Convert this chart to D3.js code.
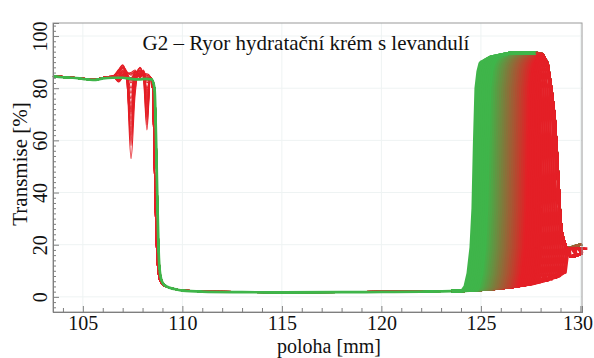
<!DOCTYPE html>
<html><head><meta charset="utf-8">
<script src="https://cdn.jsdelivr.net/npm/d3@7/dist/d3.min.js"></script>
<style>
body{margin:0;background:#fff}
text{font-family:"Liberation Serif","Times New Roman",serif;fill:#111}
</style>
</head><body>
<svg id="c" width="594" height="358"></svg>
<script>
// ---------- data ----------
const titleText = "G2 – Ryor hydratační krém s levandulí";
const xLabel = "poloha [mm]";
const yLabel = "Transmise [%]";
const xTicks = [105, 110, 115, 120, 125, 130];
const yTicks = [0, 20, 40, 60, 80, 100];

// last (green) profile, left / middle part
const lastX = [103.5,104,104.5,105,105.5,105.8,106,106.5,107,107.4,107.8,108.2,108.45,108.6,108.68,108.75,108.82,108.9,109,109.2,109.6,110,111,113,115,118,120,122,123.5];
const lastT = [84.6,84.2,84,83.6,83.2,83.4,83.8,84,84,83.6,83.4,83.6,83.4,80,60,35,15,8,5.5,4,3,2.4,2.0,1.8,1.7,1.8,1.9,2.0,2.2];

// early (red) profiles, left part; null = per-profile value below
const redX = [103.5,104,104.5,105,105.5,105.8,106,106.5,106.8,107.0,107.2,107.42,107.62,107.87,108.05,108.22,108.4,108.5,108.58,108.66,108.74,108.82,108.92,109.1,109.5,110,111,113,115,118,120,122,123.5];
const redT = [84.9,84.5,84.2,83.8,83.5,83.7,84.1,84.6,null,null,null,null,null,null,null,null,84.3,80,55,28,13,7.5,5.5,4.2,3.3,2.6,2.2,2.0,1.9,2.0,2.1,2.2,2.2];
const peak1 = [89,88.5,88.8,88,87.5,88.2,87,86.5,87.8,86,85.5,86.8,85.2,85,86.2,84.8,84.5,85.5,84.3,84.2];
const mid1  = [84.5,85.5,83.5,86.5,85,83,86,84.5,85.5,84,86.5,84.5,85.5,85,86.5,85.5,84.5,86,85.5,86];
const dip1  = [53,58,62,60,66,64,70,68,72,74,71,76,78,80,82,83,84,85,86,85.5];
const mid2  = [77,81,83,79,84,82,85,83,86,85,84,86,86.5,85,86,86.5,85.5,86.5,87,86.5];
const peak2 = [88,87,87.5,86.5,87.8,86,86.8,85.5,86.5,85.2,86,85,85.5,84.8,85,84.5,84.5,84.2,84,84];
const mid3  = [83,85,84,86,85,86.5,84.5,86,86.5,85.5,86.5,86,86.5,85.5,87,85.5,85.5,86.5,85.5,85.5];
const dip2  = [64,68,66,70,72,69,74,73,76,75,78,77,79,80,82,83,84,84.5,85,85.5];

// front (clarification edge) position of each profile, first -> last
const fronts = [128.95,128.85,128.75,128.65,128.55,128.45,128.35,128.25,128.15,128.05,
  127.95,127.85,127.75,127.65,127.55,127.45,127.35,127.25,127.15,127.05,
  126.95,126.85,126.75,126.65,126.55,126.45,126.35,126.25,126.15,126.05,
  125.95,125.85,125.75,125.65,125.55,125.45,125.35,125.25,125.15,125.05,
  124.95,124.85,124.75,124.65,124.55,124.45,124.35,124.25,124.15,124.05];

// low level in front of the edge
const lowX = [123.5,124.5,125.5,126.5,127.5,128.3,128.8,129.05,129.3];
const lowT = [2.2,2.5,3.0,3.8,5.0,6.5,8.2,10,10];
// shape of the rising edge (distance from front, transmission)
const riseDx = [0,0.15,0.3,0.45,0.55,0.62,0.7,0.8,0.9,1.05,1.4];
const riseT  = [0,4,9,19,34,58,80,86.5,89.5,91.5,93.5];
// upper envelope (plateau + cell bottom)
const envX = [123.5,124.6,124.8,125.0,125.5,126.5,127.2,127.8,128.1,128.35,128.55,128.7,128.8,128.9,128.98,129.05,129.15,129.3];
const envT = [86,86,88,90,92,93.5,94,93.7,93,89.5,79,69,57,43,31,25,22,18.5];
// tails behind the cell bottom: early and late profiles
const tailEarlyX = [129.3,129.5,129.8,130.08];
const tailEarlyT = [17,15.5,15.8,16.8];
const tailLateX  = [129.3,129.5,129.8,130.08];
const tailLateT  = [19.2,18.8,19.6,20.2];
const tailSplit = 126.0;
const tailStart = 128.0;

const colorStops = [126.7, 124.75];
const colorRange = ["#e41f26", "#3fb54a"];

// ---------- drawing ----------
const svg = d3.select("#c");
const x = d3.scaleLinear().domain([103.5, 130.08]).range([53, 582]);
const y = d3.scaleLinear().domain([-5.8, 105]).range([312, 23]);
const color = d3.scaleLinear().domain(colorStops).range(colorRange).clamp(true).interpolate(d3.interpolateRgb);
const pw = (xs, ts) => d3.scaleLinear().domain(xs).range(ts).clamp(true);
const line = d3.line().x(d => x(d[0])).y(d => y(d[1]));
const lineS = d3.line().x(d => x(d[0])).y(d => y(d[1])).curve(d3.curveMonotoneX);

// grid
const grid = svg.append("g").attr("stroke", "#eef3f3").attr("stroke-width", 1);
xTicks.forEach(v => grid.append("line").attr("x1", x(v)).attr("x2", x(v)).attr("y1", 23).attr("y2", 312));
yTicks.forEach(v => grid.append("line").attr("x1", 53).attr("x2", 582).attr("y1", y(v)).attr("y2", y(v)));

const lowF = pw(lowX, lowT);
const riseF = pw(riseDx, riseT);
const envF = pw(envX, envT);

const n = fronts.length;
const profiles = fronts.map((f, i) => {
  let left;
  if (i < dip1.length) {
    const t = redT.slice();
    t[8] = peak1[i] - 1.8; t[9] = peak1[i]; t[10] = mid1[i]; t[11] = dip1[i];
    t[12] = mid2[i]; t[13] = peak2[i]; t[14] = mid3[i]; t[15] = dip2[i];
    left = redX.map((v, k) => [v, t[k]]);
  } else {
    left = lastX.map((v, k) => [v, lastT[k]]);
  }
  const pts = [];
  lowX.filter(v => v < f).forEach(v => pts.push([v, lowF(v)]));
  const b = lowF(f);
  const xs = Array.from(new Set(riseDx.map(d => +(f + d).toFixed(3)).concat(envX.filter(v => v > f))))
    .sort((a, c) => a - c);
  xs.forEach(v => pts.push([v, Math.min(Math.max(b, riseF(v - f)), envF(v))]));
  const tx = f > tailSplit ? tailEarlyX : tailLateX, tt = f > tailSplit ? tailEarlyT : tailLateT;
  tx.forEach((v, k) => { if (v > pts[pts.length - 1][0]) pts.push([v, tt[k]]); });
  const right = pts.filter(p => p[0] <= tailStart + 0.001);
  const tail = pts.filter(p => p[0] >= tailStart - 0.3);
  return {i, f, left, right, tail, col: color(f), dip: i < dip1.length, last: i === n - 1};
});

const plot = svg.append("g");
plot.selectAll("path.r").data(profiles).join("path").attr("class", "r")
  .attr("d", d => line(d.right)).attr("fill", "none")
  .attr("stroke", d => d.col).attr("stroke-width", 3).attr("stroke-linejoin", "round");
plot.selectAll("path.t").data(profiles.slice().reverse()).join("path").attr("class", "t")
  .attr("d", d => line(d.tail)).attr("fill", "none")
  .attr("stroke", d => d.col).attr("stroke-width", 2.6).attr("stroke-linejoin", "round");
plot.selectAll("path.l").data(profiles).join("path").attr("class", "l")
  .attr("d", d => lineS(d.left)).attr("fill", "none")
  .attr("stroke", d => d.col)
  .attr("stroke-width", d => d.last ? 2.7 : (d.dip ? 1.1 : 1.5))
  .attr("stroke-linejoin", "round");

// axes
const axCol = "#7f7f7f";
svg.append("rect").attr("x", 53).attr("y", 23).attr("width", 529).attr("height", 289)
  .attr("fill", "none").attr("stroke", "#9a9a9a").attr("stroke-width", 1);

const gx = svg.append("g").attr("transform", "translate(0,312)")
  .call(d3.axisBottom(x).tickValues(xTicks).tickSize(-6).tickPadding(4).tickFormat(d3.format("d")));
const gxm = svg.append("g").attr("transform", "translate(0,312)")
  .call(d3.axisBottom(x).tickValues(d3.range(104, 130, 1).filter(v => v % 5)).tickSize(-4).tickFormat(""));
const gy = svg.append("g").attr("transform", "translate(53,0)")
  .call(d3.axisLeft(y).tickValues(yTicks).tickSize(-6).tickFormat(d3.format("d")));
const gym = svg.append("g").attr("transform", "translate(53,0)")
  .call(d3.axisLeft(y).tickValues(d3.range(-4, 105, 2).filter(v => v % 20)).tickSize(-3).tickFormat(""));
[gx, gxm, gy, gym].forEach(g => {
  g.attr("font-family", null);
  g.select(".domain").attr("stroke", axCol);
  g.selectAll(".tick line").attr("stroke", axCol);
  g.selectAll("text").attr("font-size", 20).attr("fill", "#111");
});
gx.selectAll(".tick text").filter(d => d === 130).attr("x", -3);
gy.selectAll(".tick text").attr("x", 0).attr("dy", 0).attr("text-anchor", "middle")
  .attr("transform", "translate(-6,0) rotate(-90)");

// titles
svg.append("text").attr("x", 306).attr("y", 50).attr("text-anchor", "middle").attr("font-size", 21).text(titleText);
svg.append("text").attr("x", 329).attr("y", 353).attr("text-anchor", "middle").attr("font-size", 20).text(xLabel);
svg.append("text").attr("transform", "translate(27,164) rotate(-90)").attr("text-anchor", "middle").attr("font-size", 21).text(yLabel);
</script>
</body></html>
